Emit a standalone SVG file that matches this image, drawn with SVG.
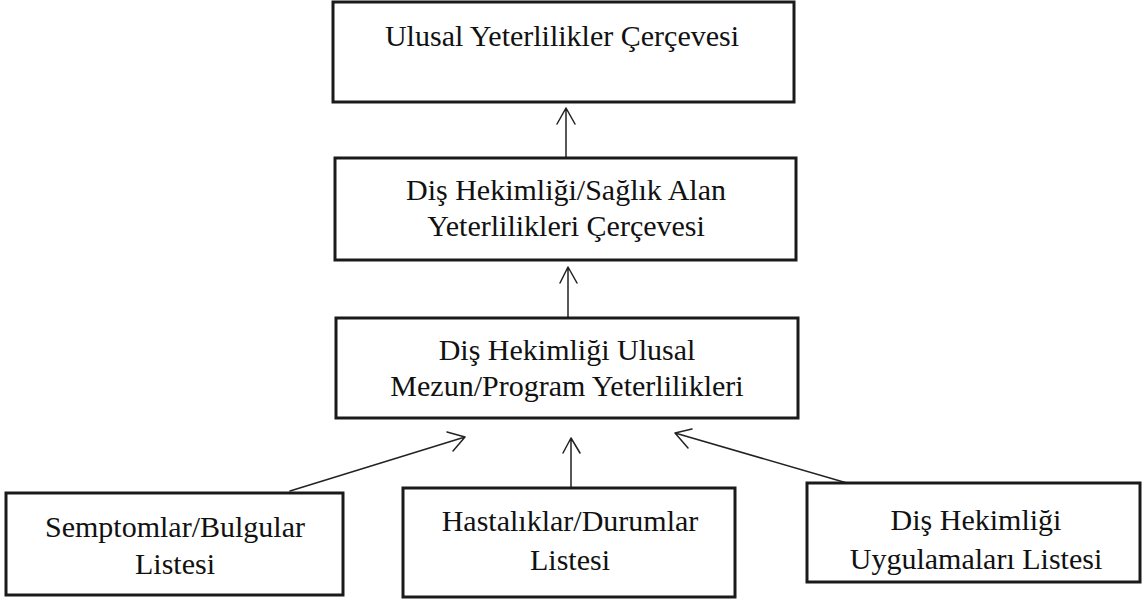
<svg xmlns="http://www.w3.org/2000/svg" width="1142" height="604" viewBox="0 0 1142 604">
<style>
.box{fill:#fff;stroke:#1a1a1a;stroke-width:3}
.t{font-family:"Liberation Serif","Times New Roman",serif;font-size:30px;fill:#111;text-anchor:middle}
.c{fill:none;stroke:#222;stroke-width:1.5;stroke-linecap:round;stroke-linejoin:round}
</style>
<rect width="1142" height="604" fill="#fff"/>
<g id="connectors">
<path class="c" d="M566,158 L566,108 M557,124 L566,108 L575,124"/>
<path class="c" d="M568,318 L568,267 M560,283 L568,267 L577,283"/>
<path class="c" d="M571,488 L571,438 M563,453 L571,438 L580,453"/>
<path class="c" d="M290,491 L465,437 M447,432 L465,437 L453,451"/>
<path class="c" d="M847,483 L675,433 M692,429 L675,433 L688,448"/>
</g>
<g id="n1">
<rect class="box" x="333" y="2" width="461" height="100"/>
<text class="t" x="562" y="46">Ulusal Yeterlilikler Çerçevesi</text>
</g>
<g id="n2">
<rect class="box" x="335" y="158" width="461" height="102"/>
<text class="t" x="566" y="200">Diş Hekimliği/Sağlık Alan</text>
<text class="t" x="566" y="236">Yeterlilikleri Çerçevesi</text>
</g>
<g id="n3">
<rect class="box" x="336" y="318" width="462" height="100"/>
<text class="t" x="567" y="360">Diş Hekimliği Ulusal</text>
<text class="t" x="567" y="396">Mezun/Program Yeterlilikleri</text>
</g>
<g id="n4">
<rect class="box" x="6" y="493" width="337" height="102"/>
<text class="t" x="175" y="537">Semptomlar/Bulgular</text>
<text class="t" x="175" y="574">Listesi</text>
</g>
<g id="n5">
<rect class="box" x="403" y="488" width="332" height="109"/>
<text class="t" x="570" y="531">Hastalıklar/Durumlar</text>
<text class="t" x="570" y="570">Listesi</text>
</g>
<g id="n6">
<rect class="box" x="807" y="483" width="333" height="99"/>
<text class="t" x="976" y="530">Diş Hekimliği</text>
<text class="t" x="976" y="569">Uygulamaları Listesi</text>
</g>
</svg>
